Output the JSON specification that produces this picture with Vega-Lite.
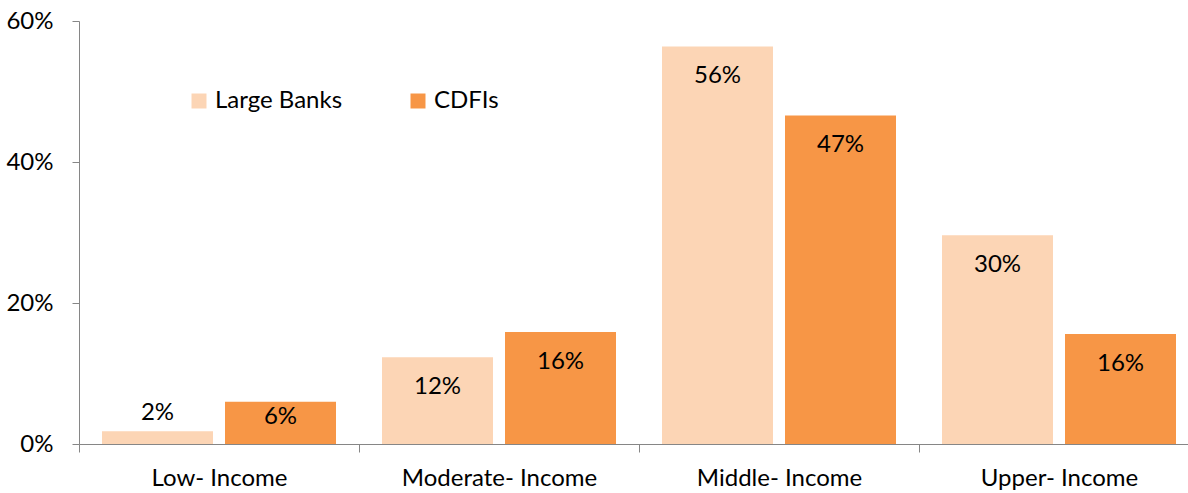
{
  "$schema": "https://vega.github.io/schema/vega-lite/v6.json",
  "width": 1109,
  "height": 423,
  "autosize": {"type": "none"},
  "padding": {"left": 79, "top": 21, "right": 0, "bottom": 49},
  "config": {"view": {"stroke": null}, "font": "Lato"},
  "data": {
    "values": [
      {"income": "Low- Income", "lender": "Large Banks", "share": 0.018},
      {"income": "Low- Income", "lender": "CDFIs", "share": 0.060},
      {"income": "Moderate- Income", "lender": "Large Banks", "share": 0.123},
      {"income": "Moderate- Income", "lender": "CDFIs", "share": 0.159},
      {"income": "Middle- Income", "lender": "Large Banks", "share": 0.564},
      {"income": "Middle- Income", "lender": "CDFIs", "share": 0.466},
      {"income": "Upper- Income", "lender": "Large Banks", "share": 0.296},
      {"income": "Upper- Income", "lender": "CDFIs", "share": 0.156}
    ]
  },
  "encoding": {
    "x": {
      "field": "income",
      "type": "nominal",
      "sort": ["Low- Income", "Moderate- Income", "Middle- Income", "Upper- Income"],
      "scale": {"range": [0, 1120], "paddingInner": 0, "paddingOuter": 0},
      "axis": {
        "title": null,
        "labelAngle": 0,
        "labelLimit": 0,
        "tickBand": "extent",
        "tickSize": 8,
        "labelPadding": 14,
        "domainColor": "#868686",
        "tickColor": "#868686",
        "labelFontSize": 24,
        "labelFont": "Lato",
        "labelColor": "#000000"
      }
    },
    "xOffset": {
      "field": "lender",
      "sort": ["Large Banks", "CDFIs"],
      "scale": {"paddingInner": 0.0976, "paddingOuter": 0.187}
    },
    "y": {
      "field": "share",
      "type": "quantitative",
      "scale": {"domain": [0, 0.6]},
      "axis": {
        "title": null,
        "values": [0, 0.2, 0.4, 0.6],
        "format": ".0%",
        "grid": false,
        "tickSize": 7,
        "labelPadding": 19,
        "domainColor": "#868686",
        "tickColor": "#868686",
        "labelFontSize": 24,
        "labelFont": "Lato",
        "labelColor": "#000000"
      }
    }
  },
  "layer": [
    {
      "mark": {"type": "bar"},
      "encoding": {
        "color": {
          "field": "lender",
          "type": "nominal",
          "scale": {"domain": ["Large Banks", "CDFIs"], "range": ["#FCD5B5", "#F79646"]},
          "legend": {
            "title": null,
            "orient": "none",
            "legendX": 108,
            "legendY": 68,
            "direction": "horizontal",
            "symbolType": "square",
            "symbolSize": 225,
            "symbolStrokeWidth": 0,
            "labelFontSize": 24,
            "labelFont": "Lato",
            "labelColor": "#000000",
            "labelOffset": 4,
            "columnPadding": 63
          }
        }
      }
    },
    {
      "transform": [{"filter": "datum.share >= 0.1"}],
      "mark": {"type": "text", "baseline": "middle", "dy": 30, "fontSize": 24, "font": "Lato", "color": "#000000"},
      "encoding": {"text": {"field": "share", "type": "quantitative", "format": ".0%"}}
    },
    {
      "transform": [{"filter": "datum.share >= 0.04 && datum.share < 0.1"}],
      "mark": {"type": "text", "baseline": "middle", "dy": 15, "fontSize": 24, "font": "Lato", "color": "#000000"},
      "encoding": {"text": {"field": "share", "type": "quantitative", "format": ".0%"}}
    },
    {
      "transform": [{"filter": "datum.share < 0.04"}],
      "mark": {"type": "text", "baseline": "middle", "dy": -18, "fontSize": 24, "font": "Lato", "color": "#000000"},
      "encoding": {"text": {"field": "share", "type": "quantitative", "format": ".0%"}}
    }
  ]
}
